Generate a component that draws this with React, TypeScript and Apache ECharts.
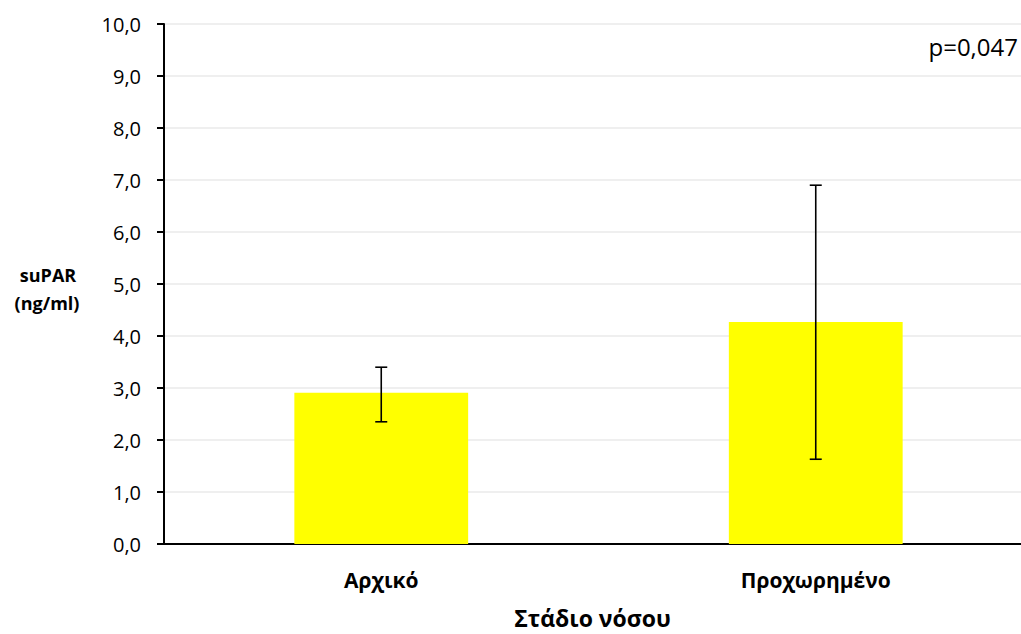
import React, { useEffect, useRef } from "react";
import * as echarts from "echarts";

// Disease stage groups and mean suPAR with error-bar limits
const stages = ["Αρχικό", "Προχωρημένο"];
const means = [2.91, 4.27];
const lowerLimits = [2.35, 1.63];
const upperLimits = [3.4, 6.9];
const pValueText = "p=0,047";

const FONT = "'Open Sans', 'Noto Sans', sans-serif";

export default function App() {
  const ref = useRef<HTMLDivElement>(null);

  useEffect(() => {
    if (!ref.current) return;
    const chart = echarts.init(ref.current, undefined, { renderer: "svg" });

    const errorData = stages.map((_, i) => [i, lowerLimits[i], upperLimits[i]]);

    chart.setOption({
      animation: false,
      backgroundColor: "#ffffff",
      // plot area runs slightly past the visible right edge
      grid: { left: 164, right: 0, top: 24, bottom: 88, containLabel: false },
      xAxis: {
        type: "category",
        data: stages,
        name: "Στάδιο νόσου",
        nameLocation: "middle",
        nameGap: 62,
        nameTextStyle: {
          fontFamily: FONT,
          fontWeight: "bold",
          fontSize: 23,
          color: "#000",
          padding: [0, 12, 0, 0],
        },
        axisLine: { lineStyle: { color: "#000", width: 2 } },
        axisTick: { show: false },
        axisLabel: { fontFamily: FONT, fontWeight: "bold", fontSize: 21, color: "#000", margin: 25 },
      },
      yAxis: {
        type: "value",
        min: 0,
        max: 10,
        interval: 1,
        axisLine: { show: true, lineStyle: { color: "#000", width: 2 } },
        axisTick: { show: true, length: 7, lineStyle: { color: "#000", width: 2 } },
        splitLine: { lineStyle: { color: "#efefef", width: 2 } },
        axisLabel: {
          fontFamily: FONT,
          fontSize: 20,
          color: "#000",
          margin: 23,
          formatter: (v: number) => v.toFixed(1).replace(".", ","),
        },
      },
      series: [
        {
          type: "bar",
          data: means,
          barWidth: "40%",
          itemStyle: { color: "#ffff00" },
          z: 2,
        },
        {
          type: "custom",
          data: errorData,
          z: 5,
          renderItem: (params: any, api: any) => {
            const x = api.value(0);
            const lo = api.coord([x, api.value(1)]);
            const hi = api.coord([x, api.value(2)]);
            const cx = lo[0];
            const half = 6;
            const style = { stroke: "#000", lineWidth: 1.6 };
            return {
              type: "group",
              children: [
                { type: "line", shape: { x1: cx, y1: hi[1], x2: cx, y2: lo[1] }, style },
                { type: "line", shape: { x1: cx - half, y1: hi[1], x2: cx + half, y2: hi[1] }, style },
                { type: "line", shape: { x1: cx - half, y1: lo[1], x2: cx + half, y2: lo[1] }, style },
              ],
            };
          },
        },
      ],
      graphic: [
        {
          type: "text",
          x: 48,
          y: 275,
          style: {
            text: "suPAR",
            fontFamily: FONT,
            fontWeight: "bold",
            fontSize: 18,
            fill: "#000",
            align: "center",
            verticalAlign: "middle",
          },
        },
        {
          type: "text",
          x: 47,
          y: 303,
          style: {
            text: "(ng/ml)",
            fontFamily: FONT,
            fontWeight: "bold",
            fontSize: 18,
            fill: "#000",
            align: "center",
            verticalAlign: "middle",
          },
        },
        {
          type: "text",
          x: 1018,
          y: 46,
          style: {
            text: pValueText,
            fontFamily: FONT,
            fontSize: 24,
            fill: "#000",
            align: "right",
            verticalAlign: "middle",
          },
        },
      ],
    });

    return () => chart.dispose();
  }, []);

  return (
    <div
      style={{
        position: "fixed",
        left: 0,
        top: 0,
        width: 1021,
        height: 634,
        overflow: "hidden",
        background: "#fff",
      }}
    >
      <div ref={ref} style={{ width: 1033, height: 634 }} />
    </div>
  );
}
